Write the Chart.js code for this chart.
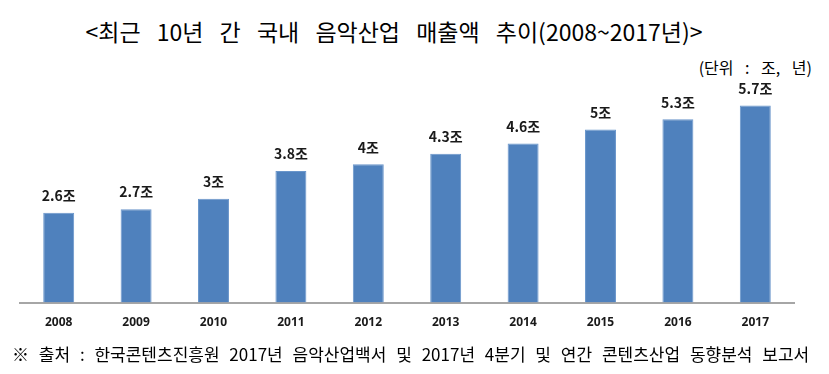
<!DOCTYPE html>
<html>
<head>
<meta charset="utf-8">
<script src="https://cdn.jsdelivr.net/npm/chart.js@4/dist/chart.umd.min.js"></script>
<style>
  body { margin: 0; width: 829px; height: 374px; position: relative; background: #fff; overflow: hidden;
         font-family: "Noto Sans CJK KR", "Noto Sans", sans-serif; color: #000; }
  .txt { position: absolute; white-space: nowrap; line-height: 1; }
  #title { left: 0; width: 788px; top: 20px; text-align: center; font-size: 23px; word-spacing: 11px; }
  #unit { right: 17px; top: 59px; font-size: 16px; word-spacing: 8px; }
  #source { left: 12px; top: 345px; font-size: 17px; word-spacing: 6px; }
  #wrap { position: absolute; left: 0; top: 75px; width: 829px; height: 277px; }
</style>
</head>
<body>
<div id="title" class="txt">&lt;최근 10년 간 국내 음악산업 매출액 추이(2008~2017년)&gt;</div>
<div id="unit" class="txt">(단위 : 조, 년)</div>
<div id="wrap"><canvas id="chart"></canvas></div>
<div id="source" class="txt">※ 출처 : 한국콘텐츠진흥원 2017년 음악산업백서 및 2017년 4분기 및 연간 콘텐츠산업 동향분석 보고서</div>

<script>
const years = ['2008', '2009', '2010', '2011', '2012', '2013', '2014', '2015', '2016', '2017'];
const sales = [2.6, 2.7, 3, 3.8, 4, 4.3, 4.6, 5, 5.3, 5.7];
const unitSuffix = '조';

// values above each bar, e.g. "2.6조"
const barLabels = {
    id: 'barLabels',
    afterDatasetsDraw(chart) {
        const ctx = chart.ctx;
        const meta = chart.getDatasetMeta(0);
        ctx.save();
        ctx.font = 'bold 14px "Noto Sans CJK KR", "Noto Sans", sans-serif';
        ctx.fillStyle = '#1a1a1a';
        ctx.textAlign = 'center';
        ctx.textBaseline = 'middle';
        meta.data.forEach((bar, i) => {
            ctx.fillText(sales[i] + unitSuffix, bar.x, bar.y - 17);
        });
        ctx.restore();
    }
};

const chart = new Chart(document.getElementById('chart'), {
    type: 'bar',
    data: {
        labels: years,
        datasets: [
            {
                data: sales,
                backgroundColor: '#4f81bd',
                borderColor: '#6a96cb',
                borderWidth: 1,
                categoryPercentage: 1,
                barPercentage: 0.4
            }
        ]
    },
    options: {
        responsive: true,
        maintainAspectRatio: false,
        animation: false,
        layout: {
            padding: { left: 20, right: 35, top: 20, bottom: 9 }
        },
        scales: {
            x: {
                grid: { display: false, drawTicks: false },
                border: { display: true, color: '#a6a6a6', width: 2 },
                ticks: {
                    padding: 13,
                    color: '#1a1a1a',
                    font: { family: '"Noto Sans", sans-serif', size: 12, weight: 'bold' }
                }
            },
            y: {
                display: false,
                min: 0,
                max: 6
            }
        },
        plugins: {
            legend: { display: false },
            tooltip: { enabled: false }
        }
    },
    plugins: [barLabels]
});
</script>
</body>
</html>
